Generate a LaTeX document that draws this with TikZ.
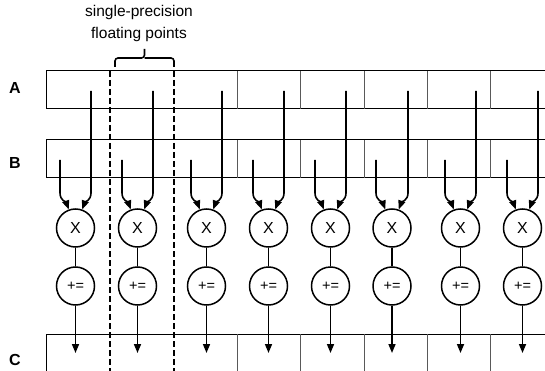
\documentclass[tikz,border=0pt]{standalone}
\usepackage{fontspec}
\setmainfont{Liberation Sans}
\usetikzlibrary{arrows.meta}
\begin{document}
\begin{tikzpicture}[x=1pt,y=1pt,
  cellrow/.style={draw=black,line width=1pt},
  sep/.style={draw=black!65,line width=1pt},
  divider/.style={draw=black,line width=1.4pt,dash pattern=on 6pt off 3pt},
  op/.style={circle,draw,line width=1.5pt,minimum size=38pt,inner sep=0pt,font=\fontsize{16}{18}\selectfont},
  acc/.style={op,font=\fontsize{14.5}{16}\selectfont},
  flow/.style={line width=1.6pt,-{Triangle[length=9pt,width=7pt]}},
  link/.style={line width=1.6pt},
  rowlabel/.style={font=\bfseries\fontsize{16}{18}\selectfont},
  note/.style={font=\fontsize{15.5}{18}\selectfont,anchor=base}
]
\useasboundingbox (0,0) rectangle (545,-371);
\clip (0,0) rectangle (545,-371);
\fill[white] (0,0) rectangle (545,-371);
% rows
\draw[cellrow] (560,-71) -- (46,-71) -- (46,-109) -- (560,-109);
\draw[cellrow] (560,-140) -- (46,-140) -- (46,-178) -- (560,-178);
\draw[cellrow] (560,-334) -- (46,-334) -- (46,-380);
\foreach \s in {237,300,364,427,490.5} {
  \draw[sep] (\s,-71) -- (\s,-109);
  \draw[sep] (\s,-140) -- (\s,-178);
  \draw[sep] (\s,-334) -- (\s,-380);
}
\draw[divider] (110,-71) -- (110,-380);
\draw[divider] (174,-71) -- (174,-380);
% labels
\node[rowlabel] (la) at (15,-88) {A};
\node[rowlabel] (lb) at (15,-163) {B};
\node[rowlabel] (lc) at (15,-360) {C};
\node[note] (t1) at (139,-17) {single-precision};
\node[note] (t2) at (139,-39) {floating points};
\draw[link,rounded corners=3pt] (115,-67) |- (144.5,-58) -- (144.5,-49);
\draw[link,rounded corners=3pt] (144.5,-58) -| (174,-67);
% lanes
\foreach \ax/\bx/\i in {91/60/1,153/122/2,222/191/3,284/253/4,346/315/5,408/376/6,476/445/7,538/507/8} {
  \node[op] (x\i) at ({(\ax+\bx)/2},-228) {X};
  \node[acc] (p\i) at ({(\ax+\bx)/2},-286) {+=};
  \coordinate (a\i) at (\ax,-91);
  \coordinate (b\i) at (\bx,-160);
  \coordinate (c\i) at ({(\ax+\bx)/2},-353);
  \draw[flow] (a\i) -- ++(0,-102) to[out=-90,in=70] (x\i.70);
  \draw[flow] (b\i) -- ++(0,-33) to[out=-90,in=110] (x\i.110);
  \draw[link] (x\i) -- (p\i);
  \draw[flow] (p\i) -- (c\i);
}
\end{tikzpicture}
\end{document}
